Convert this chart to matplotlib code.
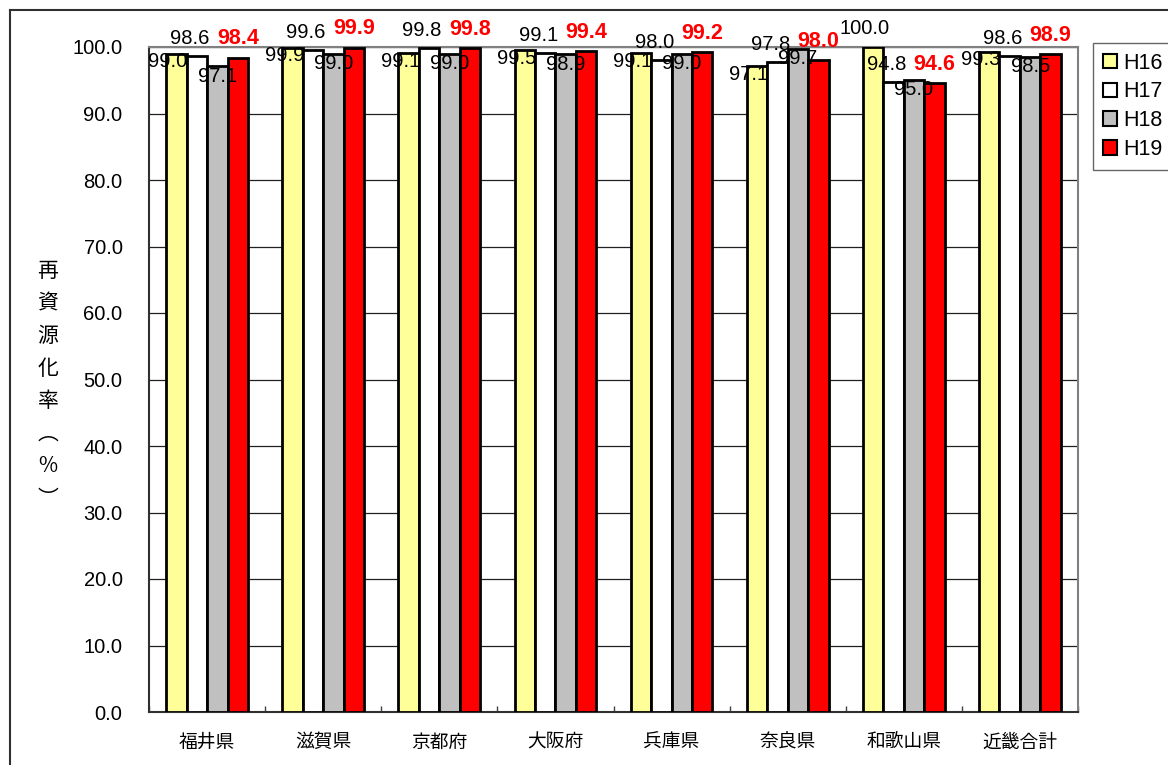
import matplotlib
matplotlib.use("Agg")
import matplotlib.pyplot as plt
from matplotlib.lines import Line2D
from matplotlib.patches import Patch
import numpy as np

plt.rcParams['font.family'] = ['Noto Sans CJK JP', 'DejaVu Sans']
NUM_FONT = ['Liberation Sans', 'DejaVu Sans']

categories = ["福井県", "滋賀県", "京都府", "大阪府", "兵庫県", "奈良県", "和歌山県", "近畿合計"]
series_names = ["H16", "H17", "H18", "H19"]
h16 = [99.0, 99.9, 99.1, 99.5, 99.1, 97.1, 100.0, 99.3]
h17 = [98.6, 99.6, 99.8, 99.1, 98.0, 97.8, 94.8, 98.6]
h18 = [97.1, 99.0, 99.0, 98.9, 99.0, 99.7, 95.0, 98.5]
h19 = [98.4, 99.9, 99.8, 99.4, 99.2, 98.0, 94.6, 98.9]
yticks = [0, 10, 20, 30, 40, 50, 60, 70, 80, 90, 100]
ylabel = "再\n資\n源\n化\n率\n︵\n%\n︶"

values = [h16, h17, h18, h19]
colors = ["#FFFF99", "#FFFFFF", "#C0C0C0", "#FF0000"]

W, H = 1168, 765
fig = plt.figure(figsize=(W / 100, H / 100), dpi=100)
ax = fig.add_axes([149 / W, 1 - 712 / H, (1078 - 149) / W, (712 - 47) / H])

x = np.arange(len(categories))
bw = 0.176
offsets = [-1.5, -0.5, 0.5, 1.5]

for vals, col, off in zip(values, colors, offsets):
    ax.bar(x + off * bw, vals, width=bw, color=col, edgecolor="black",
           linewidth=2.0, zorder=3)

# value labels: H16/H18 sit just under the bar top, H17/H19 above it
label_style = [
    dict(dx=-6, dy=-6, color="black", weight="normal", size=14.5),
    dict(dx=-5, dy=12.5, color="black", weight="normal", size=14.5),
    dict(dx=0, dy=-7, color="black", weight="normal", size=14.5),
    dict(dx=0, dy=13.5, color="#FF0000", weight="bold", size=15.5),
]
for vals, off, st in zip(values, offsets, label_style):
    for xi, v in zip(x, vals):
        dy = st["dy"]
        if v >= 100 and dy < 0:
            dy = 13.5
        ax.annotate(f"{v:.1f}", (xi + off * bw, v), xytext=(st["dx"], dy),
                    textcoords="offset points", ha="center", va="center",
                    fontsize=st["size"], color=st["color"],
                    fontweight=st["weight"], family=NUM_FONT,
                    zorder=5, annotation_clip=False)

ax.set_xlim(-0.5, len(categories) - 0.5)
ax.set_ylim(0, 100)
ax.set_yticks(yticks)
ax.set_yticklabels([f"{t:.1f}" for t in yticks], fontsize=14.5, family=NUM_FONT)
ax.tick_params(axis="y", length=0, pad=19)
ax.set_xticks(x)
ax.set_xticklabels(categories, fontsize=13.5)
ax.tick_params(axis="x", length=0, pad=14)
ax.set_xticks(np.arange(-0.5, len(categories) + 0.5, 1), minor=True)
ax.tick_params(axis="x", which="minor", direction="in", length=4,
               color="#404040", width=1)

ax.yaxis.grid(True, color="#202020", linewidth=0.9)
ax.set_axisbelow(True)
for side in ("top", "right"):
    ax.spines[side].set_color("#808080")
    ax.spines[side].set_linewidth(1.5)
for side in ("left", "bottom"):
    ax.spines[side].set_color("#303030")
    ax.spines[side].set_linewidth(1.5)

fig.text(48 / W, 1 - 385 / H, ylabel, ha="center", va="center",
         fontsize=15, linespacing=1.62)

handles = [Patch(facecolor=c, edgecolor="black", linewidth=1.5) for c in colors]
leg = fig.legend(handles, series_names, loc="upper left",
                 bbox_to_anchor=(1093 / W, 1 - 43 / H),
                 prop=dict(family=NUM_FONT, size=15.5),
                 handlelength=0.65, handleheight=0.65, handletextpad=0.3,
                 labelspacing=0.36, borderpad=0.45, borderaxespad=0,
                 frameon=True, fancybox=False)
leg.get_frame().set_edgecolor("#404040")
leg.get_frame().set_linewidth(1.0)

# outer chart frame
fig.add_artist(Line2D([10 / W, 10 / W], [1 - 10 / H, 0], transform=fig.transFigure,
                      color="#303030", linewidth=1.5))
fig.add_artist(Line2D([10 / W, 1], [1 - 10 / H, 1 - 10 / H], transform=fig.transFigure,
                      color="#303030", linewidth=1.5))

fig.savefig("out.png", dpi=100)
